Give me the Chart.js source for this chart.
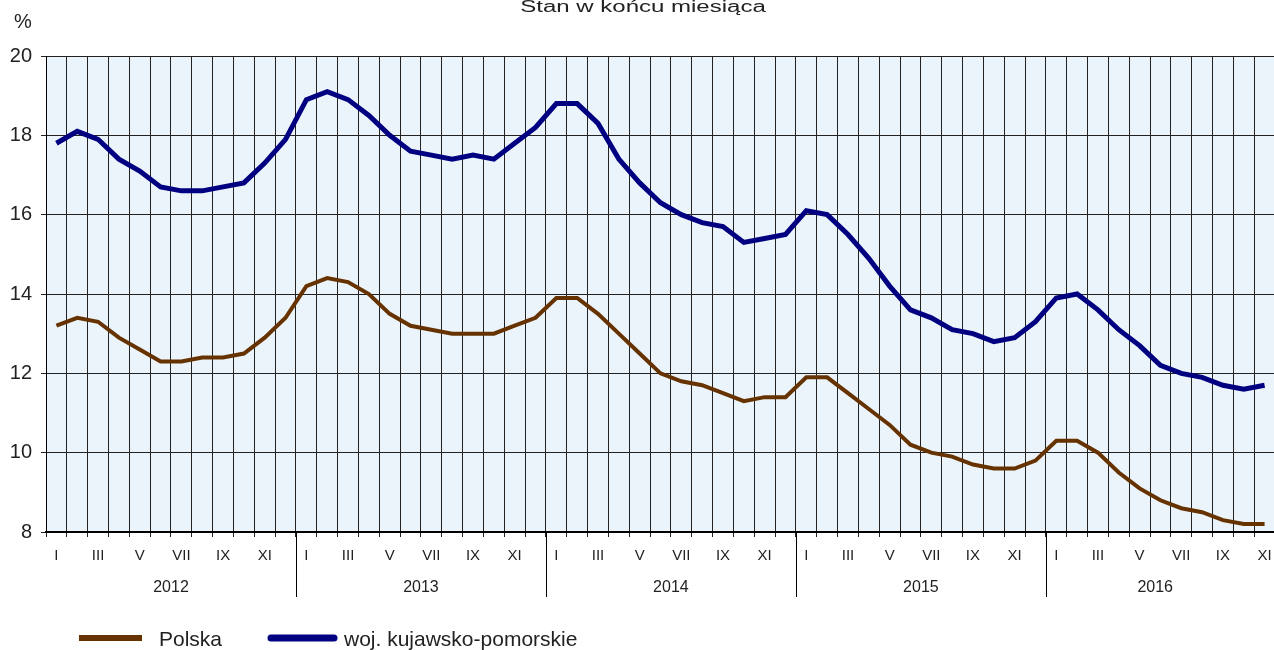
<!DOCTYPE html>
<html>
<head>
<meta charset="utf-8">
<script src="https://cdn.jsdelivr.net/npm/chart.js@4/dist/chart.umd.min.js"></script>
<style>
    html, body { margin: 0; padding: 0; overflow: hidden; background: #fff; }
    #wrap { width: 1290px; height: 650px; }
</style>
</head>
<body>
<div id="wrap"><canvas id="chart-bezrobocie" width="1290" height="650"></canvas></div>
<script>
const lata = [2012, 2013, 2014, 2015, 2016];
const miesiace = ['I', 'II', 'III', 'IV', 'V', 'VI', 'VII', 'VIII', 'IX', 'X', 'XI', 'XII'];
const y_ticks = [8, 10, 12, 14, 16, 18, 20];

// stopa bezrobocia, stan w koncu miesiaca (I 2012 - XI 2016)
const polska = [
    13.2, 13.4, 13.3, 12.9, 12.6, 12.3, 12.3, 12.4, 12.4, 12.5, 12.9, 13.4,
    14.2, 14.4, 14.3, 14.0, 13.5, 13.2, 13.1, 13.0, 13.0, 13.0, 13.2, 13.4,
    13.9, 13.9, 13.5, 13.0, 12.5, 12.0, 11.8, 11.7, 11.5, 11.3, 11.4, 11.4,
    11.9, 11.9, 11.5, 11.1, 10.7, 10.2, 10.0, 9.9, 9.7, 9.6, 9.6, 9.8,
    10.3, 10.3, 10.0, 9.5, 9.1, 8.8, 8.6, 8.5, 8.3, 8.2, 8.2
];
const kujawsko_pomorskie = [
    17.8, 18.1, 17.9, 17.4, 17.1, 16.7, 16.6, 16.6, 16.7, 16.8, 17.3, 17.9,
    18.9, 19.1, 18.9, 18.5, 18.0, 17.6, 17.5, 17.4, 17.5, 17.4, 17.8, 18.2,
    18.8, 18.8, 18.3, 17.4, 16.8, 16.3, 16.0, 15.8, 15.7, 15.3, 15.4, 15.5,
    16.1, 16.0, 15.5, 14.9, 14.2, 13.6, 13.4, 13.1, 13.0, 12.8, 12.9, 13.3,
    13.9, 14.0, 13.6, 13.1, 12.7, 12.2, 12.0, 11.9, 11.7, 11.6, 11.7
];

const etykiety = lata.flatMap(rok => miesiace.map(m => m + ' ' + rok)).slice(0, polska.length);

const czcionka = '"Liberation Sans", Arial, sans-serif';
const kolor_tekstu = '#222';

// tlo obszaru wykresu
const tlo_wykresu = {
    id: 'tlo_wykresu',
    beforeDraw(chart) {
        const { ctx, chartArea: a } = chart;
        ctx.save();
        ctx.fillStyle = '#EBF4FA';
        ctx.fillRect(a.left, a.top, a.right - a.left, a.bottom - a.top);
        ctx.restore();
    }
};

// tytul, lata, legenda
const opisy = {
    id: 'opisy',
    afterDraw(chart) {
        const { ctx, chartArea: a } = chart;
        const x = chart.scales.x;
        const n = polska.length;
        const krok = x.getPixelForValue(1) - x.getPixelForValue(0);
        ctx.save();
        ctx.fillStyle = kolor_tekstu;

        ctx.font = '16px ' + czcionka;
        ctx.textAlign = 'center';
        ctx.textBaseline = 'alphabetic';
        ctx.save();
        ctx.translate(643, 12);
        ctx.scale(1.5, 1);
        ctx.fillText('Stan w końcu miesiąca', 0, 0);
        ctx.restore();

        ctx.font = '20px ' + czcionka;
        ctx.textAlign = 'left';
        ctx.fillText('%', 14, 28);

        ctx.font = '16px ' + czcionka;
        ctx.textAlign = 'center';
        ctx.strokeStyle = '#000';
        ctx.lineWidth = 1;
        lata.forEach((rok, i) => {
            const pierwszy = i * 12;
            const ostatni = Math.min(pierwszy + 11, n - 1);
            const start = x.getPixelForValue(pierwszy) - krok / 2;
            const koniec = ostatni === pierwszy + 11 ? start + 12 * krok : x.getPixelForValue(ostatni);
            if (i > 0) {
                const px = Math.round(start) + 0.5;
                ctx.beginPath();
                ctx.moveTo(px, a.bottom);
                ctx.lineTo(px, 597);
                ctx.stroke();
            }
            ctx.fillText(String(rok), (start + koniec) / 2, 592);
        });

        // legenda
        ctx.lineCap = 'butt';
        ctx.strokeStyle = '#663300';
        ctx.lineWidth = 6;
        ctx.beginPath();
        ctx.moveTo(79, 638);
        ctx.lineTo(142, 638);
        ctx.stroke();

        ctx.lineCap = 'round';
        ctx.strokeStyle = '#000080';
        ctx.lineWidth = 7;
        ctx.beginPath();
        ctx.moveTo(271, 638);
        ctx.lineTo(334, 638);
        ctx.stroke();

        ctx.font = '21px ' + czcionka;
        ctx.textAlign = 'left';
        ctx.fillText(chart.data.datasets[0].label, 159, 646);
        ctx.fillText(chart.data.datasets[1].label, 344, 646);
        ctx.restore();
    }
};

new Chart(document.getElementById('chart-bezrobocie'), {
    type: 'line',
    data: {
        labels: etykiety,
        datasets: [{
            label: 'Polska',
            data: polska,
            borderColor: '#663300',
            borderWidth: 4,
            pointRadius: 0,
            tension: 0
        }, {
            label: 'woj. kujawsko-pomorskie',
            data: kujawsko_pomorskie,
            borderColor: '#000080',
            borderWidth: 5,
            pointRadius: 0,
            tension: 0
        }]
    },
    options: {
        responsive: false,
        animation: false,
        layout: { padding: { top: 56, right: 15, left: 0, bottom: 0 } },
        plugins: {
            legend: { display: false },
            title: { display: false },
            tooltip: { enabled: false }
        },
        scales: {
            x: {
                offset: true,
                grid: { offset: true, color: '#222', lineWidth: 1, tickLength: 5, tickColor: '#222' },
                border: { color: '#000', width: 2 },
                ticks: {
                    autoSkip: false,
                    maxRotation: 0,
                    padding: 10,
                    color: kolor_tekstu,
                    font: { family: czcionka, size: 15 },
                    callback: (v, i) => i % 2 === 0 ? miesiace[i % 12] : ''
                },
                afterFit: s => { s.height = 118; }
            },
            y: {
                min: 8,
                max: 20,
                afterBuildTicks: s => { s.ticks = y_ticks.map(v => ({ value: v })); },
                grid: { color: '#222', lineWidth: 1, tickLength: 5, tickColor: '#222' },
                border: { color: '#000', width: 1 },
                ticks: {
                    padding: 9,
                    color: kolor_tekstu,
                    font: { family: czcionka, size: 20 }
                },
                afterFit: s => { s.width = 46; }
            }
        }
    },
    plugins: [tlo_wykresu, opisy]
});
</script>
</body>
</html>
